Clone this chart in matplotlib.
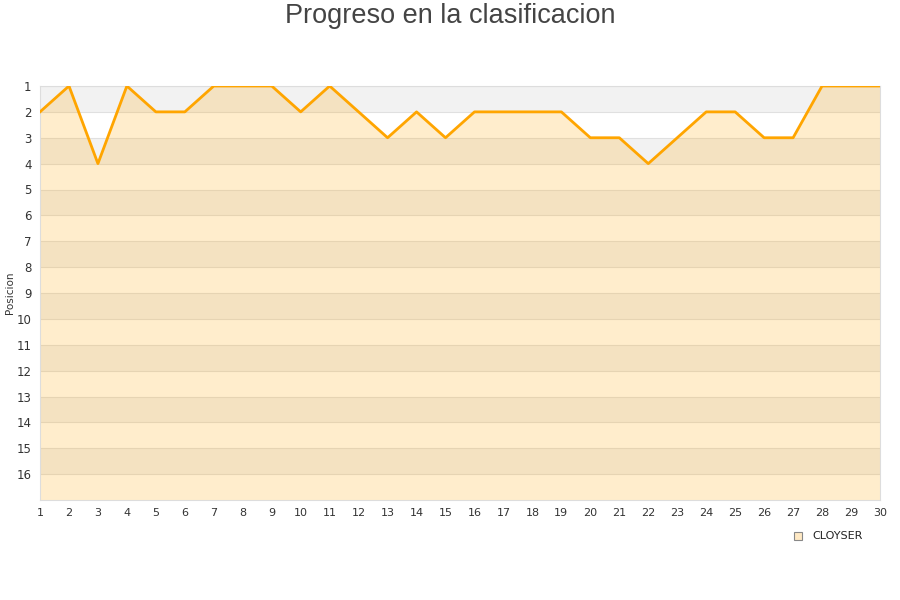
import numpy as np
import matplotlib.pyplot as plt

# jornadas y posicion del equipo
jornadas = list(range(1, 31))
posicion = [2, 1, 4, 1, 2, 2, 1, 1, 1, 2, 1, 2, 3, 2, 3,
            2, 2, 2, 2, 3, 3, 4, 3, 2, 2, 3, 3, 1, 1, 1]
equipo = "CLOYSER"
n_posiciones = 16

fig = plt.figure(figsize=(9, 6), dpi=100)
ax = fig.add_axes([40 / 900, 1 - 500 / 600, 840 / 900, 414 / 600])

# bandas alternas de fondo
for p in range(1, n_posiciones + 1):
    if p % 2 == 1:
        ax.axhspan(p, p + 1, color='#f2f2f2', lw=0, zorder=0)
    ax.axhline(p, color='#e0e0e0', lw=0.8, zorder=1)

ax.fill_between(jornadas, posicion, n_posiciones + 1, color='orange', alpha=0.2, lw=0, zorder=2)
ax.plot(jornadas, posicion, color='orange', lw=2, zorder=3, label=equipo)

ax.set_xlim(1, 30)
ax.set_ylim(n_posiciones + 1, 1)
ax.set_xticks(jornadas)
ax.set_yticks(range(1, n_posiciones + 1))
ax.tick_params(axis='both', length=0, labelsize=8, colors='#333333', pad=6)
ax.tick_params(axis='y', labelsize=8.5)
for s in ax.spines.values():
    s.set_color('#dddddd')
    s.set_linewidth(0.8)

fig.text(10 / 900, 1 - 293 / 600, "Posicion", rotation=90, ha='center', va='center',
         fontsize=7.5, color='#333333')
fig.text(0.5, 1 - 16 / 600, "Progreso en la clasificacion", ha='center', va='center',
         fontsize=19.5, color='#444444', family='Liberation Sans')

# leyenda
fig.patches.append(plt.Rectangle((794 / 900, 1 - 540 / 600), 8 / 900, 8 / 600,
                                 transform=fig.transFigure, facecolor='#ffe9c4',
                                 edgecolor='#888888', lw=0.8))
fig.text(812 / 900, 1 - 536 / 600, equipo, ha='left', va='center', fontsize=8, color='#222222')

fig.savefig("out.png", dpi=100)
